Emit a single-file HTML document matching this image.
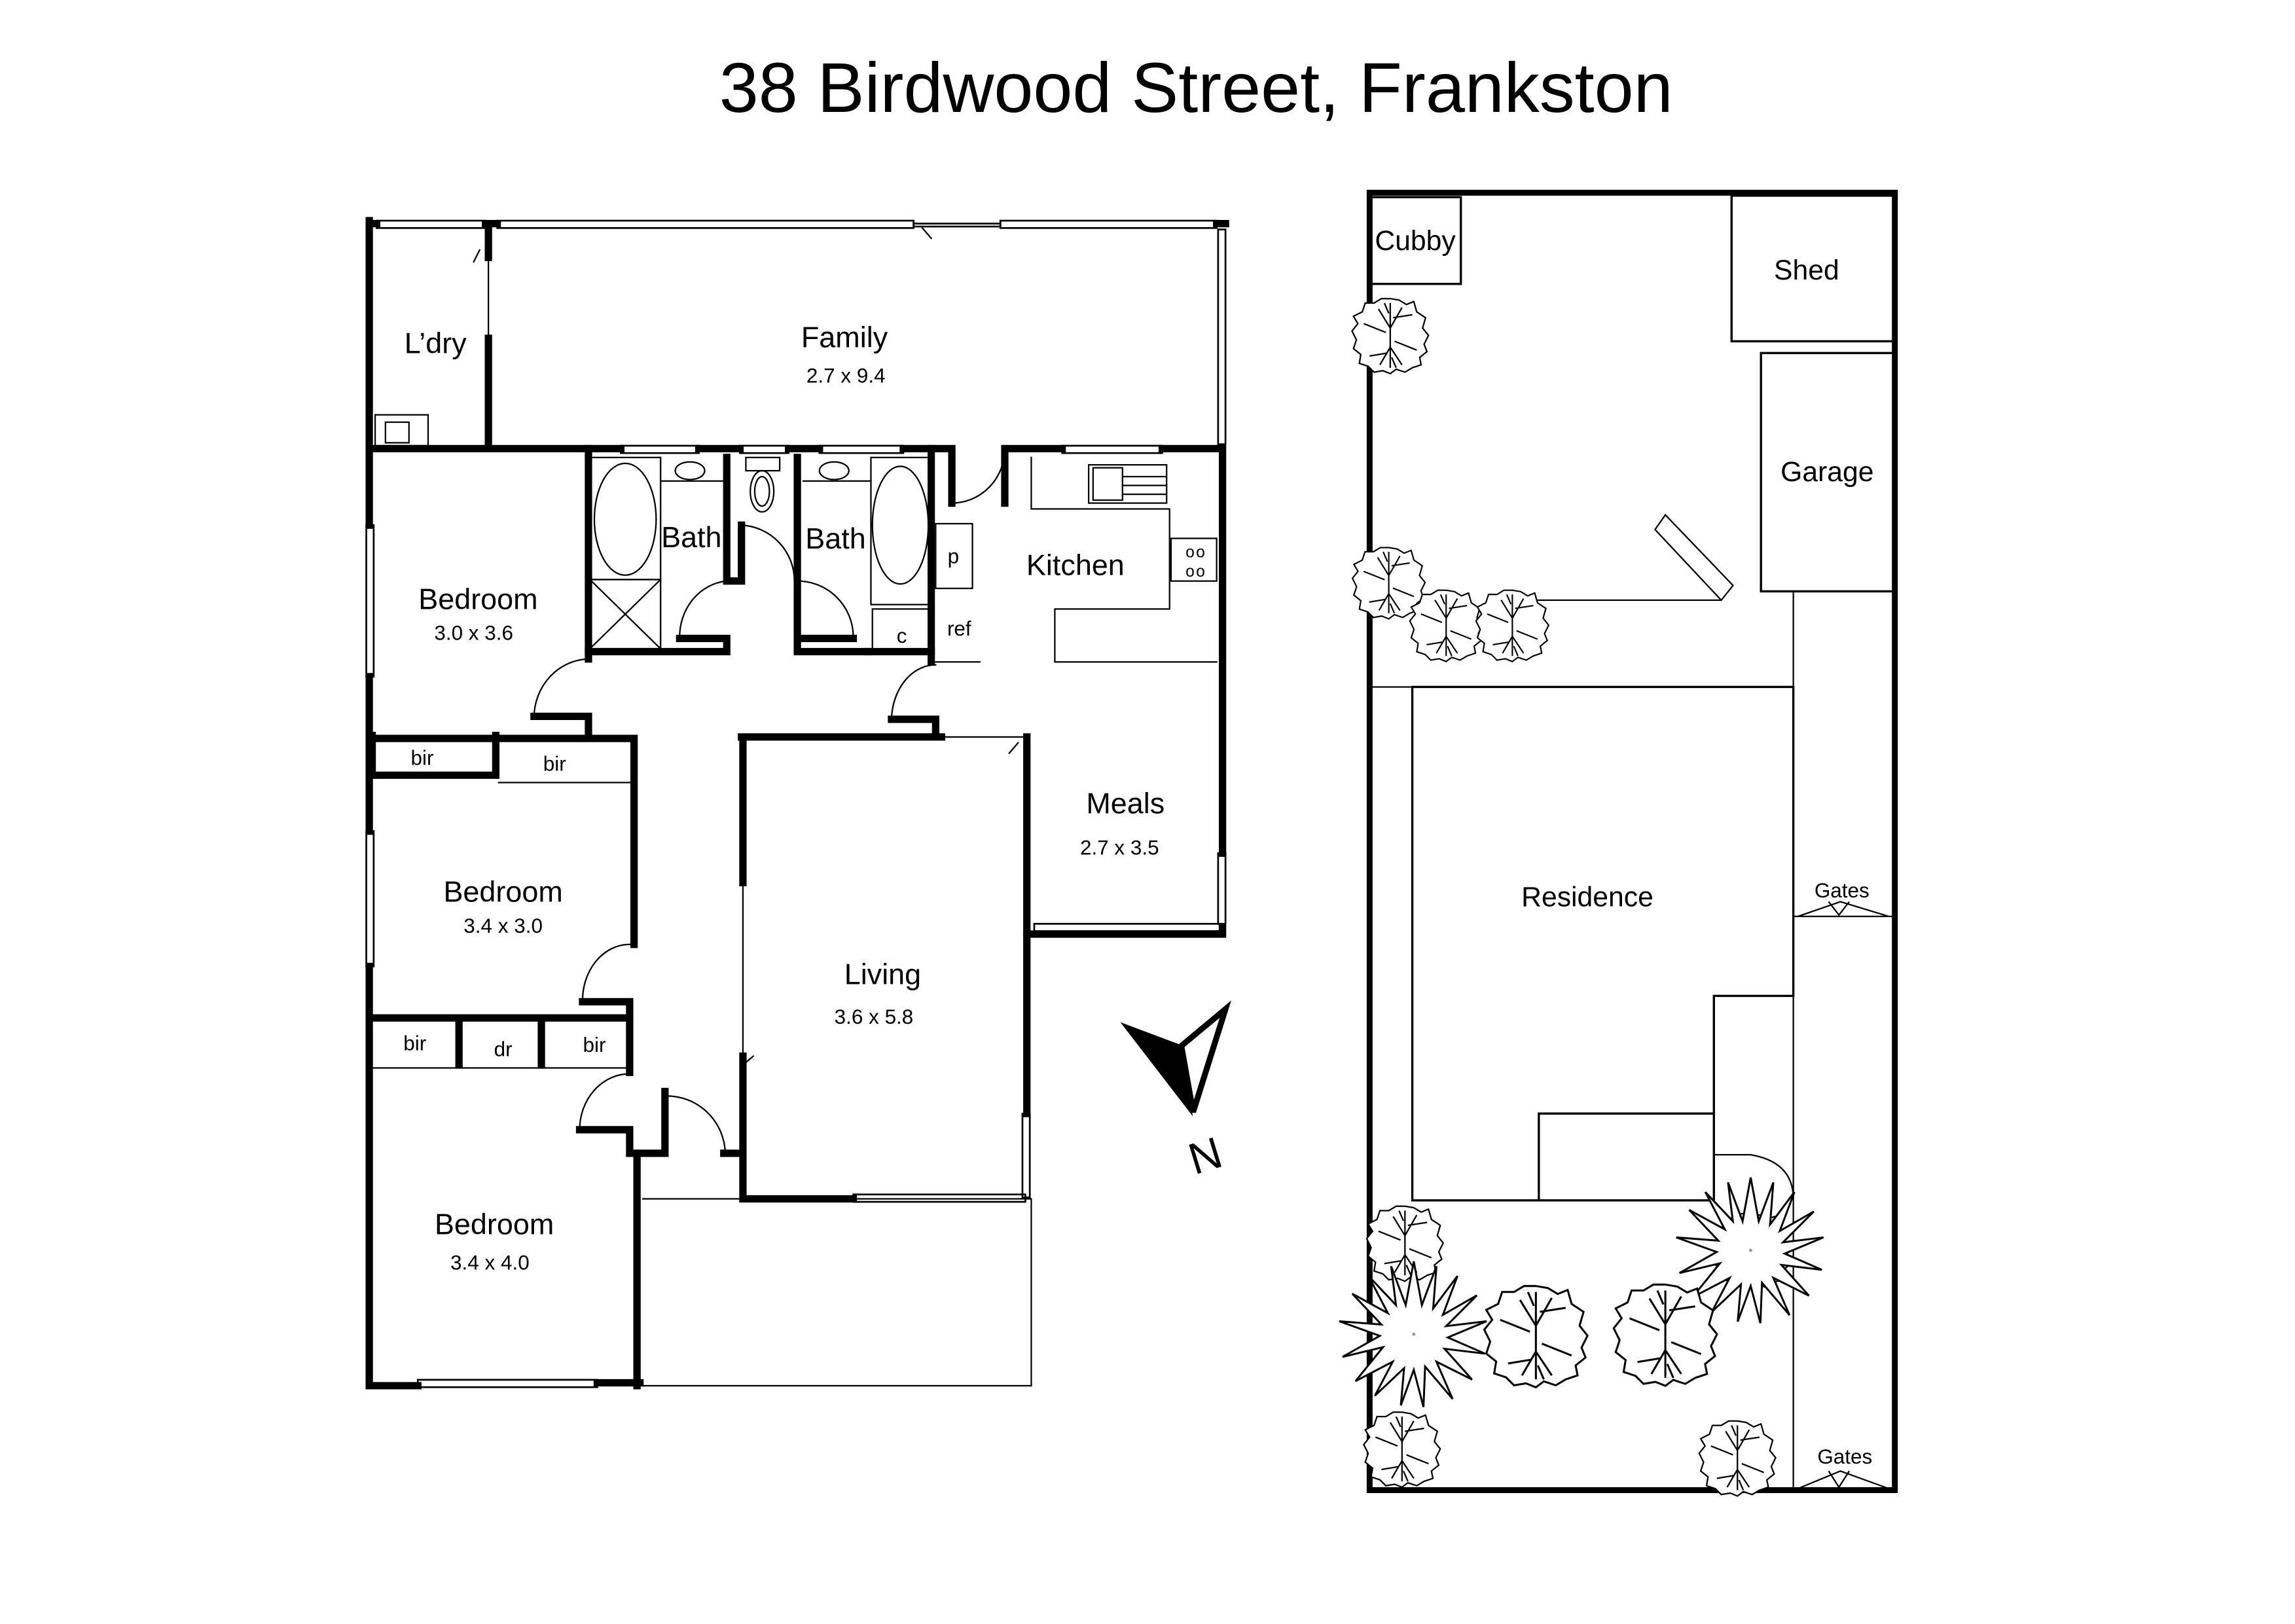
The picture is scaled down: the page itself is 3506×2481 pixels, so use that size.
<!DOCTYPE html>
<html><head><meta charset="utf-8"><style>
html,body{margin:0;padding:0;background:#fff}
svg{display:block}
text{font-family:"Liberation Sans",sans-serif;fill:#000}
</style></head><body>
<svg width="3506" height="2481" viewBox="0 0 1560 1104" preserveAspectRatio="none" xmlns="http://www.w3.org/2000/svg">
<defs>
<g id="rt">
<polygon points="0,-25 6,-24 11,-21 16,-23 18,-16 24,-12 22,-5 26,0 23,6 25,11 20,15 21,20 15,22 10,25 4,23 0,26 -5,24 -11,25 -15,21 -21,19 -20,13 -25,9 -23,3 -26,-3 -22,-8 -25,-13 -19,-16 -17,-22 -11,-22 -6,-25" fill="#fff" stroke="#000" stroke-width="1"/>
<path d="M0,-22 L0,22 M0,-5 L-8,-18 M0,-5 L8,-19 M0,8 L-7,20 M0,8 L8,20 M-3,-2 L-18,-8 M3,4 L18,10 M-2,12 L-14,14 M2,-12 L15,-14 M-1,-15 L-4,-22 M1,15 L4,22" fill="none" stroke="#000" stroke-width="1"/>
</g>
<g id="st">
<polygon points="0,-45 5,-18 14,-42 12,-16 27,-36 18,-12 39,-24 20,-5 45,-8 21,2 44,12 19,9 36,28 14,17 24,40 7,20 6,45 0,22 -8,44 -6,21 -24,38 -13,17 -36,29 -19,8 -44,14 -21,1 -46,-8 -20,-6 -38,-25 -16,-13 -28,-36 -11,-18 -14,-42 -5,-18" fill="#fff" stroke="#000" stroke-width="1.2"/>
<circle cx="0" cy="0" r="1" fill="#999"/>
</g>
</defs>

<text x="813" y="76" font-size="48" text-anchor="middle">38 Birdwood Street, Frankston</text>

<g stroke="#000" fill="none" stroke-linecap="square">
<g stroke-width="1.2">
<rect x="256" y="150" width="74" height="5"/>
<rect x="338" y="150" width="283" height="5"/>
<rect x="621" y="152" width="59" height="2"/>
<rect x="680" y="150" width="147" height="5"/>
<rect x="828" y="156" width="5" height="146"/>
<rect x="249" y="357" width="5" height="103"/>
<rect x="249" y="565" width="5" height="92"/>
<rect x="284" y="938" width="122" height="5"/>
<rect x="580" y="812" width="117" height="5"/>
<rect x="695" y="757" width="5" height="57"/>
<rect x="703" y="628" width="126" height="5"/>
<rect x="828" y="580" width="5" height="48"/>
<rect x="422" y="303" width="53" height="5"/>
<rect x="503" y="303" width="33" height="5"/>
<rect x="557" y="303" width="57" height="5"/>
<rect x="722" y="303" width="68" height="5"/>
</g>
<g stroke-width="5">
<path d="M251,152 H256 M330,152 H338 M827,152 H833"/>
<path d="M251,150 V357 M251,460 V565 M251,657 V942 H284 M406,940 H435"/>
<path d="M332,152 V175 M332,230 V305"/>
<path d="M251,305 H422 M475,305 H503 M536,305 H557 M614,305 H647 V342 M683,342 V305 H722 M790,305 H831 V580"/>
<path d="M831,630 V635 H698"/>
<path d="M400,305 V448"/>
<path d="M400,443 H494 V434 H462"/>
<path d="M494,311 V395 H504 V357"/>
<path d="M542,311 V443 H590"/>
<path d="M545,434 H580"/>
<path d="M633,305 V450"/>
<path d="M590,443 H633"/>
<path d="M363,487 H400 V500"/>
<path d="M606,489 H636 V501 H640 M504,501 H640 M698,501 V757 M580,815 H505 V718 M505,600 V501"/>
<path d="M251,502 H431 V642 M396,681 H428 V729 M253,500 V527 H337 V500"/>
<path d="M251,692 H428"/>
<path d="M312,694 V724 M368,694 V724"/>
<path d="M394,768 H428 V784 H452 V742 M492,784 H504 M433,784 V942"/>
</g>
<g stroke-width="1">
<path d="M332,175 V230 M326,170 L322,178 M627,155 L633,162"/>
<path d="M505,600 V718 M505,724 L512,718 M640,501 H698 M692,505 L686,512"/>
<path d="M339,532 H428 M253,726 H428"/>
<path d="M437,815 H701 V942 H437"/>
<rect x="255" y="282" width="36" height="21"/><rect x="262" y="287" width="16" height="14"/>
<path d="M647,342 A36,37 0 0 0 683,305"/>
<path d="M504,357 A38,38 0 0 1 540,395"/>
<path d="M462,434 A35,38 0 0 1 494,395"/>
<path d="M580,432 A38,38 0 0 0 542,395"/>
<path d="M363,487 A38,40 0 0 1 400,448"/>
<path d="M606,489 A30,38 0 0 1 636,452"/>
<path d="M396,681 A32,38 0 0 1 428,642"/>
<path d="M394,768 A34,38 0 0 1 428,730"/>
<path d="M452,745 A40,40 0 0 1 493,784"/>
<rect x="401" y="311" width="48" height="83"/><ellipse cx="425" cy="353" rx="21" ry="38"/>
<rect x="401" y="394" width="48" height="47"/><path d="M401,394 L449,441 M449,394 L401,441"/>
<path d="M449,311 V441 M449,327 H494"/><ellipse cx="469" cy="320" rx="10" ry="6"/>
<rect x="507" y="311" width="23" height="9"/><ellipse cx="518" cy="334" rx="8" ry="14"/><ellipse cx="518" cy="334" rx="5" ry="10"/>
<path d="M546,327 H592"/><ellipse cx="567" cy="320" rx="10" ry="6"/>
<rect x="592" y="311" width="40" height="100"/><ellipse cx="612" cy="357" rx="19" ry="40"/>
<rect x="593" y="414" width="40" height="29"/>
<path d="M701,311 V346 H795 V414 H717 V450 H827"/>
<rect x="740" y="316" width="53" height="26"/><rect x="743" y="318" width="20" height="22"/>
<path d="M763,324 H793 M763,330 H793 M763,336 H793"/>
<rect x="796" y="366" width="31" height="29"/>
<rect x="636" y="356" width="25" height="44"/>
<path d="M636,450 H666"/>
</g>
<polygon points="763,696 803,711 810,757" fill="#000"/>
<polygon points="803,711 833,686 811,756" fill="#fff" stroke="#000" stroke-width="4" stroke-linejoin="miter"/>
</g>
<text x="819" y="796" font-size="30" text-anchor="middle" transform="rotate(-17 819 785)">N</text>

<g font-size="20" text-anchor="middle">
<text x="296" y="240">L’dry</text>
<text x="574" y="236">Family</text>
<text x="325" y="414">Bedroom</text>
<text x="470" y="372">Bath</text>
<text x="568" y="373">Bath</text>
<text x="731" y="391">Kitchen</text>
<text x="765" y="553">Meals</text>
<text x="342" y="613">Bedroom</text>
<text x="600" y="669">Living</text>
<text x="336" y="839">Bedroom</text>
</g>
<g font-size="14" text-anchor="middle">
<text x="575" y="260">2.7 x 9.4</text>
<text x="322" y="435">3.0 x 3.6</text>
<text x="761" y="581">2.7 x 3.5</text>
<text x="342" y="634">3.4 x 3.0</text>
<text x="594" y="696">3.6 x 5.8</text>
<text x="333" y="863">3.4 x 4.0</text>
<text x="287" y="520">bir</text>
<text x="377" y="524">bir</text>
<text x="282" y="714">bir</text>
<text x="342" y="718">dr</text>
<text x="404" y="715">bir</text>
<text x="648" y="383">p</text>
<text x="613" y="437">c</text>
<text x="652" y="432">ref</text>
<text x="813" y="379" font-size="11" letter-spacing="1">oo</text>
<text x="813" y="392" font-size="11" letter-spacing="1">oo</text>
</g>

<g stroke="#000" fill="none">
<rect x="931" y="131" width="357" height="882" stroke-width="4"/>
<g stroke-width="1.5">
<rect x="932" y="134" width="61" height="59"/>
<rect x="1177" y="133" width="110" height="99"/>
<rect x="1197" y="240" width="90" height="162"/>
<path d="M960,467 H1219 V677 H1165 V816 H960 Z"/>
<path d="M1046,816 V757 H1165"/>
</g>
<g stroke-width="1">
<path d="M931,467 H960"/>
<path d="M1040,408 H1170 M1125,360 L1132,350 L1178,398 L1170,408 Z"/>
<path d="M1219,402 V1013"/>
<path d="M1165,785 H1190 Q1219,790 1219,815"/>
<path d="M1222,623 L1251,613 L1284,623 M1243,613 L1250,622 L1257,613 M1219,623 H1288"/>
<path d="M1222,1012 L1251,1000 L1284,1012 M1243,1000 L1250,1011 L1257,1000"/>
</g>
</g>
<g>
<use href="#rt" transform="translate(945,228)"/>
<use href="#rt" transform="translate(944,396) scale(0.95)"/>
<use href="#rt" transform="translate(983,425) scale(0.95)"/>
<use href="#rt" transform="translate(1028,425) scale(0.95)"/>
<use href="#rt" transform="translate(1190,850)"/>
<use href="#st" transform="translate(1190,850) scale(1.1)"/>
<use href="#rt" transform="translate(955,845)"/>
<use href="#st" transform="translate(961,907) scale(1.1)"/>
<use href="#rt" transform="translate(1044,908) scale(1.35)"/>
<use href="#rt" transform="translate(1132,907) scale(1.35)"/>
<use href="#rt" transform="translate(953,985)"/>
<use href="#rt" transform="translate(1181,991)"/>
</g>
<g text-anchor="middle">
<text x="962" y="170" font-size="19">Cubby</text>
<text x="1228" y="190" font-size="19">Shed</text>
<text x="1242" y="327" font-size="19">Garage</text>
<text x="1079" y="616" font-size="19">Residence</text>
<text x="1252" y="610" font-size="14">Gates</text>
<text x="1254" y="995" font-size="14">Gates</text>
</g>
</svg>
</body></html>
